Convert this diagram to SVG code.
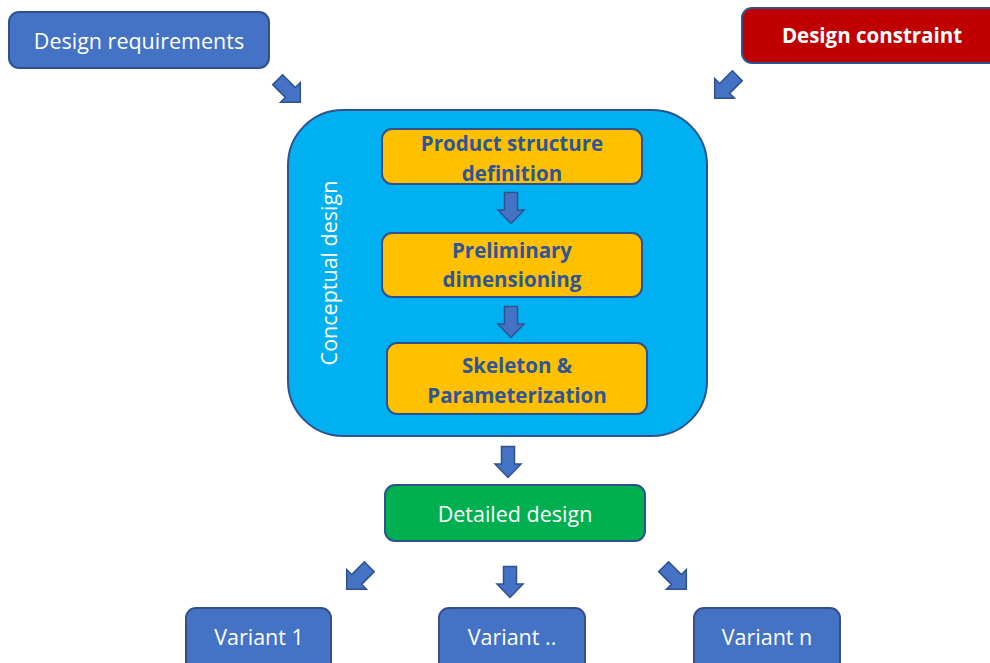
<svg xmlns="http://www.w3.org/2000/svg" width="990" height="663" viewBox="0 0 990 663">
  <style>
    .box { stroke: #2F528F; stroke-width: 2; }
    .blue { fill: #4472C4; }
    .red { fill: #C00000; }
    .cyan { fill: #00B0F0; }
    .amber { fill: #FFC000; }
    .green { fill: #00B050; }
    .lbl { font-family: "Open Sans", "Liberation Sans", sans-serif; font-size: 21.5px; fill: #FFFFFF; text-anchor: middle; }
    .bold { font-weight: bold; font-size: 20.5px; }
    .step { font-family: "Open Sans", "Liberation Sans", sans-serif; font-size: 20.5px; font-weight: bold; fill: #2F5597; text-anchor: middle; }
    .arrow { fill: #4472C4; stroke: #2F528F; stroke-width: 1.5; }
  </style>
  <defs>
    <!-- block arrow pointing down, centred on the origin -->
    <path id="blk" d="M -6.5 -15.5 L 6.5 -15.5 L 6.5 2 L 13 2 L 0 15.5 L -13 2 L -6.5 2 Z"/>
    <!-- diagonal variant: a little longer -->
    <path id="blkS" d="M -7 -16 L 7 -16 L 7 2 L 14 2 L 0 16 L -14 2 L -7 2 Z"/>
  </defs>

  <g id="design-requirements">
    <rect class="box blue" x="9" y="12" width="260" height="56" rx="10"/>
    <text class="lbl" x="139" y="49">Design requirements</text>
  </g>

  <g id="design-constraint">
    <rect class="box red" x="742" y="8" width="260" height="55" rx="10"/>
    <text class="lbl bold" x="872" y="43">Design constraint</text>
  </g>

  <g id="conceptual-design">
    <rect class="box cyan" x="288" y="110" width="419" height="326" rx="55"/>
    <text class="lbl" transform="translate(337 273) rotate(-90)">Conceptual design</text>
  </g>

  <g id="product-structure">
    <rect class="box amber" x="382" y="129" width="260" height="55" rx="10"/>
    <text class="step" x="512" y="151">Product structure</text>
    <text class="step" x="512" y="181">definition</text>
  </g>

  <g id="preliminary-dimensioning">
    <rect class="box amber" x="382" y="233" width="260" height="64" rx="10"/>
    <text class="step" x="512" y="258">Preliminary</text>
    <text class="step" x="512" y="287">dimensioning</text>
  </g>

  <g id="skeleton-parameterization">
    <rect class="box amber" x="387" y="343" width="260" height="71" rx="10"/>
    <text class="step" x="517" y="373">Skeleton &amp;</text>
    <text class="step" x="517" y="403">Parameterization</text>
  </g>

  <g id="detailed-design">
    <rect class="box green" x="385" y="485" width="260" height="56" rx="10"/>
    <text class="lbl" x="515" y="522">Detailed design</text>
  </g>

  <g id="variant-1">
    <rect class="box blue" x="186" y="608" width="145" height="64" rx="10"/>
    <text class="lbl" x="259" y="645">Variant 1</text>
  </g>

  <g id="variant-mid">
    <rect class="box blue" x="439" y="608" width="146" height="64" rx="10"/>
    <text class="lbl" x="512" y="645">Variant ..</text>
  </g>

  <g id="variant-n">
    <rect class="box blue" x="694" y="608" width="146" height="64" rx="10"/>
    <text class="lbl" x="767" y="645">Variant n</text>
  </g>

  <g id="connectors">
    <use href="#blkS" class="arrow" transform="translate(289 91) rotate(-45)"/>
    <use href="#blkS" class="arrow" transform="translate(726 87) rotate(45)"/>
    <use href="#blk" class="arrow" transform="translate(511 208)"/>
    <use href="#blk" class="arrow" transform="translate(511 322)"/>
    <use href="#blk" class="arrow" transform="translate(508 462)"/>
    <use href="#blkS" class="arrow" transform="translate(358 578) rotate(45)"/>
    <use href="#blk" class="arrow" transform="translate(510 582)"/>
    <use href="#blkS" class="arrow" transform="translate(675 578) rotate(-45)"/>
  </g>
</svg>
